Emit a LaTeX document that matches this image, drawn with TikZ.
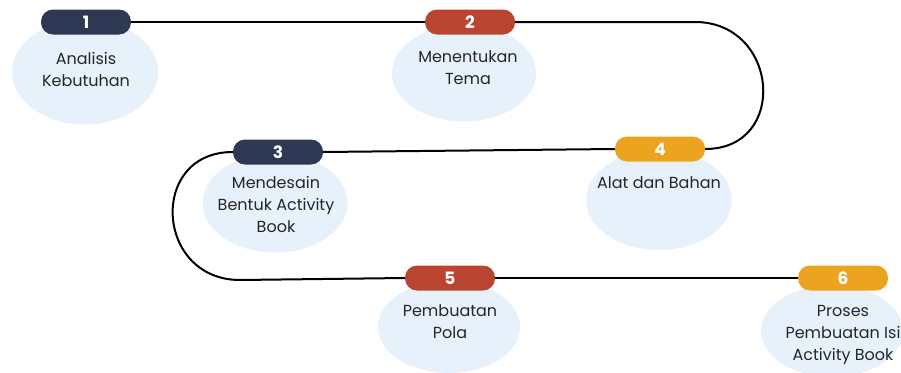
\documentclass[tikz,border=0pt]{standalone}
\usepackage{fontspec}
\setmainfont{Poppins}
\usepackage{xcolor}
\usetikzlibrary{shapes.geometric,backgrounds}
\definecolor{stepnavy}{HTML}{2E3853}
\definecolor{stepred}{HTML}{B94430}
\definecolor{steporange}{HTML}{EBA320}
\definecolor{blobblue}{HTML}{E7F1FC}
\begin{document}
\begin{tikzpicture}[x=1pt,y=-1pt,%
% common options for the blobs:
blob/.style = {ellipse, fill=blobblue, inner sep=0},
% common options for the number pills:
pill/.style = {rounded corners=12pt, minimum width=90pt, minimum height=25pt,
            inner sep=0, text=white, font=\fontsize{17}{17}\selectfont\bfseries},
% common options for the step texts:
steptext/.style = {align=center, anchor=north, text=black!85,
            font=\fontsize{16}{22}\selectfont},
link/.style = {line width=2pt}]
\useasboundingbox (0,0) rectangle (901,372);
\node[pill,fill=stepnavy] (P1) at (86,22) {1};
\node[pill,fill=stepred] (P2) at (470,22) {2};
\node[pill,fill=stepnavy] (P3) at (278,152) {3};
\node[pill,fill=steporange] (P4) at (660,149) {4};
\node[pill,fill=stepred] (P5) at (450,278) {5};
\node[pill,fill=steporange] (P6) at (843,278) {6};
\coordinate (C1) at (695,22);
\coordinate (C2) at (240,280);
\begin{scope}[on background layer]
\node[blob,minimum width=146pt,minimum height=105pt] (B1) at (85,72) {};
\node[blob,minimum width=144pt,minimum height=97pt] (B2) at (464,73) {};
\node[blob,minimum width=145pt,minimum height=99pt] (B3) at (275,203) {};
\node[blob,minimum width=146pt,minimum height=100pt] (B4) at (659,200) {};
\node[blob,minimum width=142pt,minimum height=92pt] (B5) at (449,327) {};
\node[blob,minimum width=142pt,minimum height=92pt] (B6) at (832,331) {};
\draw[link] (P1.east) -- (P2.west);
\draw[link] (P2.east) -- (C1) .. controls (779,22) and (789,149) .. (P4.east);
\draw[link] (P4.west) -- (P3.east);
\draw[link] (P3.west) .. controls (148,152) and (155,280) .. (C2) -- (P5.west);
\draw[link] (P5.east) -- (P6.west);
\end{scope}
\node[steptext] (T1) at (86,49) {Analisis\\Kebutuhan};
\node[steptext] (T2) at (468,47) {Menentukan\\Tema};
\node[steptext] (T3) at (276,173) {Mendesain\\Bentuk Activity\\Book};
\node[steptext] (T4) at (659,173) {Alat dan Bahan};
\node[steptext] (T5) at (450,301) {Pembuatan\\Pola};
\node[steptext] (T6) at (843,302) {Proses\\Pembuatan Isi\\Activity Book};
\end{tikzpicture}
\end{document}
